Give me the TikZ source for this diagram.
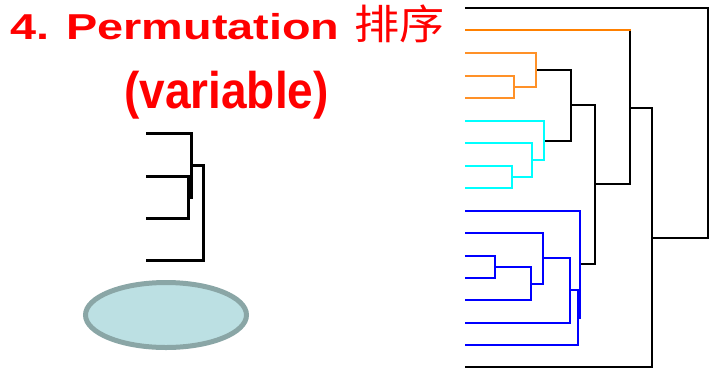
\documentclass[tikz,border=0pt]{standalone}
\usepackage{fontspec}
\setmainfont{Liberation Sans}
\newfontfamily\cjk{Noto Sans CJK SC}
\begin{document}
\begin{tikzpicture}[x=1pt,y=-1pt,
  titletext/.style={text=red,font=\fontsize{36}{40}\selectfont\bfseries,inner sep=0pt,anchor=base},
  tree/.style={line width=1.5pt,line cap=rect},
  smalltree/.style={line width=3pt,line cap=rect},
  orangeA/.style={tree,draw={rgb,255:red,255;green,128;blue,0},line width=2pt},
  orangeB/.style={tree,draw={rgb,255:red,255;green,145;blue,40}},
  cyanline/.style={tree,draw={rgb,255:red,0;green,255;blue,255}},
  blueline/.style={tree,draw={rgb,255:red,0;green,0;blue,255}}]
\useasboundingbox (0,0) rectangle (718,368);

% title
\node[titletext,anchor=base west] (t1) at (10,39) {\scalebox{1.3}[1]{4. Permutation}};
\node[titletext,anchor=base west] (t1c) at (354,39) {\scalebox{1.1}[1]{\cjk\fontsize{41}{44}\selectfont\mdseries 排序}};
\node[titletext,font=\fontsize{46}{50}\selectfont\bfseries] (t2) at (226.5,108) {\scalebox{1}[1.12]{(variable)}};

% small dendrogram
\draw[smalltree] (147,133) -- (191,133) -- (191,197) -- (188,197);
\draw[smalltree] (147,176) -- (188,176) -- (188,218) -- (147,218);
\draw[smalltree] (191,165) -- (203,165) -- (203,260) -- (147,260);

% ellipse
\draw[line width=5pt,draw={rgb,255:red,138;green,166;blue,166},fill={rgb,255:red,188;green,224;blue,227}]
  (166,315) ellipse [x radius=80.5,y radius=32.5];

% large dendrogram: black links
\draw[tree] (466,8) -- (708,8) -- (708,238) -- (652,238);
\draw[tree] (652,108) -- (652,367) -- (466,367);
\draw[tree] (652,108) -- (630,108);
\draw[tree] (630,30) -- (630,184) -- (595,184);
\draw[tree] (595,105) -- (595,264) -- (580,264);
\draw[tree] (595,105) -- (571,105);
\draw[tree] (536,70) -- (571,70) -- (571,141) -- (544,141);

% orange cluster
\draw[orangeA] (466,30) -- (630,30);
\draw[orangeB] (466,53) -- (536,53) -- (536,87) -- (514,87);
\draw[orangeB] (466,76) -- (514,76) -- (514,98) -- (466,98);

% cyan cluster
\draw[cyanline] (466,121) -- (544,121) -- (544,160) -- (532,160);
\draw[cyanline] (466,143) -- (532,143) -- (532,177) -- (512,177);
\draw[cyanline] (466,166) -- (512,166) -- (512,188) -- (466,188);

% blue cluster
\draw[blueline] (466,211) -- (580,211) -- (580,318) -- (578,318);
\draw[blueline] (466,345) -- (578,345) -- (578,290) -- (570,290);
\draw[blueline] (466,323) -- (570,323) -- (570,258) -- (543,258);
\draw[blueline] (466,233) -- (543,233) -- (543,284) -- (531,284);
\draw[blueline] (466,300) -- (531,300) -- (531,267) -- (495,267);
\draw[blueline] (466,256) -- (495,256) -- (495,278) -- (466,278);
\end{tikzpicture}
\end{document}
